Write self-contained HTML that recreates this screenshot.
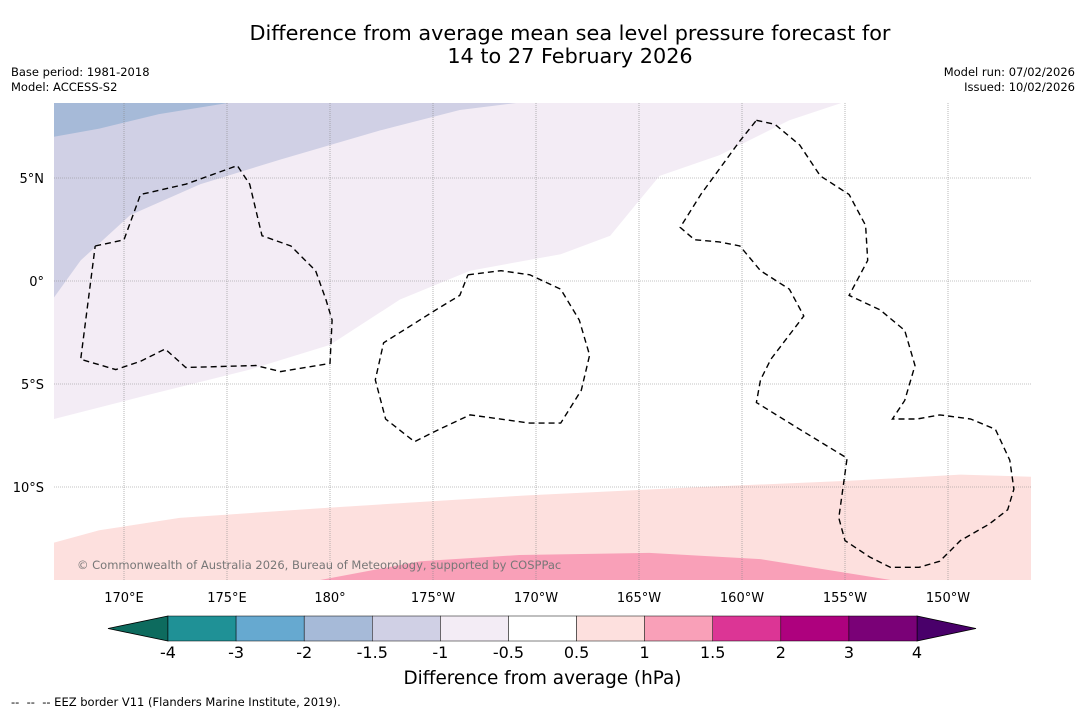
<!DOCTYPE html>
<html><head><meta charset="utf-8">
<style>
html,body{margin:0;padding:0;background:#fff;}
body{width:1085px;height:713px;position:relative;overflow:hidden;font-family:"DejaVu Sans","Liberation Sans",sans-serif;}
.t{position:absolute;white-space:nowrap;color:#000;}
</style></head>
<body>
<div class="t" style="left:0;width:1140px;text-align:center;top:22px;font-size:20.8px;line-height:23px;">Difference from average mean sea level pressure forecast for<br>14 to 27 February 2026</div>
<div class="t" style="left:11px;top:65px;font-size:11.5px;line-height:15px;">Base period: 1981-2018<br>Model: ACCESS-S2</div>
<div class="t" style="right:10px;top:65px;font-size:11.5px;line-height:15px;text-align:right;">Model run: 07/02/2026<br>Issued: 10/02/2026</div>
<svg id="chart" width="1085" height="713" style="position:absolute;left:0;top:0;" xmlns="http://www.w3.org/2000/svg">
<defs><clipPath id="mc"><rect x="54" y="103" width="977" height="477"/></clipPath></defs>
<g id="map" clip-path="url(#mc)"></g>
<g id="axes"></g>
<g id="cbar"></g>
</svg>
<div class="t" style="left:77px;top:558px;font-size:11.5px;color:#777;">© Commonwealth of Australia 2026, Bureau of Meteorology, supported by COSPPac</div>
<div class="t" style="left:0;width:1085px;text-align:center;top:668px;font-size:18.4px;">Difference from average (hPa)</div>
<div class="t" style="left:11px;top:695px;font-size:11.5px;">--&nbsp; --&nbsp; -- EEZ border V11 (Flanders Marine Institute, 2019).</div>
<script>
const lonTicks=[170,175,180,185,190,195,200,205,210];
const lonLabels=["170°E","175°E","180°","175°W","170°W","165°W","160°W","155°W","150°W"];
const latTicks=[5,0,-5,-10];
const latLabels=["5°N","0°","5°S","10°S"];
const blueEdge=[[166.6,7.0],[168.8,7.4],[171.7,8.1],[175.4,8.7]];
const lavEdge=[[166.6,-0.8],[167.9,1.0],[170.3,3.2],[173.7,4.7],[177.6,5.9],[182.4,7.3],[186.3,8.3],[189.5,8.7]];
const lightLavEdge=[[166.6,-6.7],[171.3,-5.5],[176.1,-4.3],[180,-3.1],[183.4,-0.9],[186.8,0.5],[191.2,1.3],[193.6,2.2],[195.0,3.9],[196.0,5.1],[198.9,6.1],[202.3,7.8],[205.0,8.7]];
const pinkLightEdge=[[166.6,-12.7],[168.8,-12.1],[172.7,-11.5],[180,-11.0],[189.7,-10.4],[198.0,-10.0],[205.2,-9.7],[210.6,-9.4],[214.0,-9.5]];
const pinkEdge=[[178.0,-14.8],[184.4,-13.6],[189.2,-13.3],[195.5,-13.2],[200.9,-13.5],[209.0,-14.8]];
const eez1=[[168.6,1.7],[170.0,2.0],[170.8,4.2],[173.0,4.7],[175.5,5.6],[176.1,4.7],[176.7,2.2],[178.1,1.7],[179.3,0.5],[179.8,-0.9],[180.1,-1.9],[180.0,-4.0],[177.6,-4.4],[176.4,-4.1],[173.0,-4.2],[172.0,-3.3],[170.8,-3.9],[169.6,-4.3],[167.9,-3.8],[168.6,1.7]];
const eez2=[[186.7,0.3],[188.3,0.5],[189.7,0.3],[191.2,-0.4],[192.1,-1.9],[192.6,-3.6],[192.2,-5.3],[191.2,-6.9],[189.7,-6.9],[186.8,-6.5],[185.3,-7.2],[184.1,-7.8],[182.7,-6.7],[182.2,-4.8],[182.6,-3.0],[185.3,-1.3],[186.3,-0.7],[186.7,0.3]];
const eez3=[[200.7,7.8],[201.6,7.6],[202.8,6.6],[203.8,5.1],[205.2,4.2],[206.0,2.7],[206.1,1.0],[205.2,-0.7],[206.7,-1.4],[207.9,-2.4],[208.4,-4.1],[207.9,-5.8],[207.3,-6.7],[208.5,-6.7],[209.6,-6.5],[211.1,-6.7],[212.3,-7.2],[213.0,-8.7],[213.2,-10.1],[212.9,-11.1],[212.0,-11.8],[210.6,-12.6],[209.6,-13.6],[208.6,-13.9],[207.2,-13.9],[206.2,-13.4],[205.0,-12.6],[204.7,-11.5],[205.1,-8.6],[202.8,-7.2],[200.7,-5.9],[200.9,-4.8],[201.4,-3.8],[203.0,-1.7],[202.3,-0.4],[200.9,0.5],[199.9,1.7],[198.9,1.9],[197.7,2.0],[197.0,2.6],[198.0,4.2],[199.9,6.8],[200.7,7.8]];
const cbLevels=["-4","-3","-2","-1.5","-1","-0.5","0.5","1","1.5","2","3","4"];
const cbColors=["#1f9196","#66a9d0","#a6bad8","#d0d0e5","#f3ecf5","#ffffff","#fde0de","#f9a0b8","#dc3595","#ae017e","#7a0177"];
const cbUnder="#0d6b5e", cbOver="#49006a";

const X=lon=>124+(lon-170)*20.6;
const Y=lat=>281-lat*20.6;
const NS="http://www.w3.org/2000/svg";
function mk(tag,attrs,parent){const e=document.createElementNS(NS,tag);for(const k in attrs)e.setAttribute(k,attrs[k]);parent.appendChild(e);return e;}
const map=document.getElementById('map'),axes=document.getElementById('axes'),cb=document.getElementById('cbar');
const pts=a=>a.map(p=>X(p[0]).toFixed(1)+','+Y(p[1]).toFixed(1)).join(' L');
const TOP=Y(9.5),BOT=Y(-15.5),LEFT=X(166),RIGHT=X(215);
function fillAbove(edge,color,name){
  const d='M'+LEFT+','+Y(edge[0][1])+' L'+pts(edge)+' L'+X(edge[edge.length-1][0])+','+TOP+' L'+LEFT+','+TOP+' Z';
  const e=mk('path',{d:d,fill:color},map);
  
  
}
function fillBelow(edge,color,name,ext){
  const first=edge[0],last=edge[edge.length-1];
  const d='M'+(ext?LEFT:X(first[0]))+','+(ext?Y(first[1]):BOT)+' L'+pts(edge)+' L'+(ext?RIGHT+','+Y(last[1])+' L'+RIGHT:X(last[0]))+','+BOT+' L'+(ext?LEFT:X(first[0]))+','+BOT+' Z';
  const e=mk('path',{d:d,fill:color},map);
  
  
}
fillAbove(lightLavEdge,"#f3ecf5","anomaly-region-minus-0.5");
fillAbove(lavEdge,"#d0d0e5","anomaly-region-minus-1");
fillAbove(blueEdge,"#a6bad8","anomaly-region-minus-1.5");
fillBelow(pinkLightEdge,"#fde0de","anomaly-region-plus-0.5",true);
fillBelow(pinkEdge,"#f9a0b8","anomaly-region-plus-1",false);
lonTicks.forEach((l,i)=>{
  const g=mk('line',{x1:X(l),x2:X(l),y1:103,y2:580,stroke:'#888','stroke-width':0.6,'stroke-dasharray':'1,1'},map);
  
  
  const t=mk('text',{x:X(l),y:602,'font-size':13,'text-anchor':'middle','font-family':'DejaVu Sans, sans-serif'},axes);
  t.textContent=lonLabels[i];
  
  
});
latTicks.forEach((l,i)=>{
  const g=mk('line',{x1:54,x2:1031,y1:Y(l),y2:Y(l),stroke:'#888','stroke-width':0.6,'stroke-dasharray':'1,1'},map);
  
  
  const t=mk('text',{x:44,y:Y(l)+5,'font-size':13,'text-anchor':'end','font-family':'DejaVu Sans, sans-serif'},axes);
  t.textContent=latLabels[i];
  
  
});
[eez1,eez2,eez3].forEach(a=>{
  const e=mk('path',{d:'M'+pts(a),fill:'none',stroke:'#000','stroke-width':1.4,'stroke-dasharray':'6,4'},map);
  
  
});
const cbL=168,cbR=917,cbT=616,cbB=641,n=cbColors.length,w=(cbR-cbL)/n;
const under=mk('polygon',{points:`108,${(cbT+cbB)/2} ${cbL},${cbT} ${cbL},${cbB}`,fill:cbUnder,stroke:'#000','stroke-width':0.8},cb);


const over=mk('polygon',{points:`976,${(cbT+cbB)/2} ${cbR},${cbT} ${cbR},${cbB}`,fill:cbOver,stroke:'#000','stroke-width':0.8},cb);


cbColors.forEach((c,i)=>{
  const r=mk('rect',{x:cbL+i*w,y:cbT,width:w,height:cbB-cbT,fill:c,stroke:'#000','stroke-width':0.5},cb);
  
  
});
cbLevels.forEach((lv,i)=>{
  const t=mk('text',{x:cbL+i*w,y:658,'font-size':16,'text-anchor':'middle','font-family':'DejaVu Sans, sans-serif'},cb);
  t.textContent=lv;
  
  
});
</script>
</body></html>
